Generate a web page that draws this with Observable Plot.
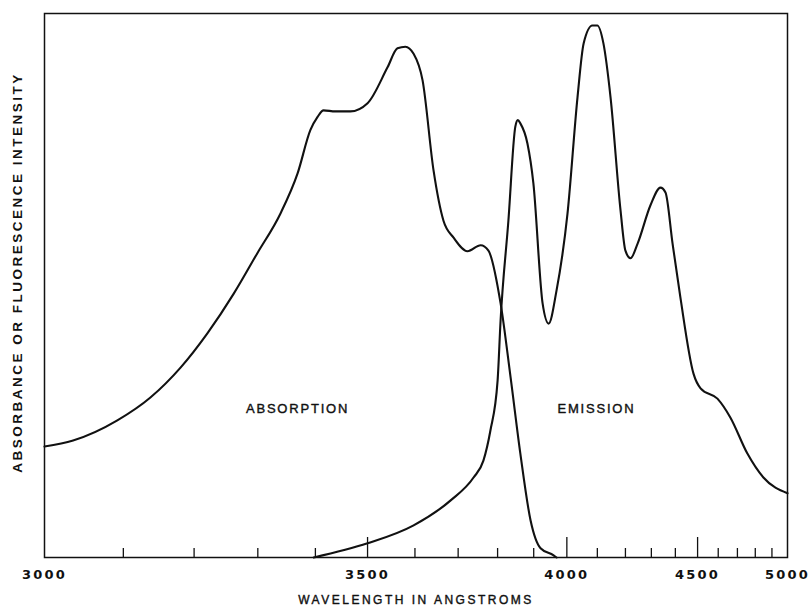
<!DOCTYPE html>
<html>
<head>
<meta charset="utf-8">
<script src="https://cdn.jsdelivr.net/npm/d3@7"></script>
<script src="https://cdn.jsdelivr.net/npm/@observablehq/plot@0.6"></script>
<style>
  html, body { margin: 0; padding: 0; background: #fff; }
  svg { display: block; }
</style>
</head>
<body>
<div id="chart"></div>
<script>
// Absorption spectrum (wavelength in Å, relative absorbance)
const absorptionWavelength = [3000, 3035, 3092, 3137, 3180, 3220, 3261, 3299, 3338, 3368, 3391, 3404, 3415, 3437, 3466, 3500, 3541, 3562, 3579, 3597, 3617, 3642, 3665, 3689, 3723, 3756, 3776, 3808, 3835, 3862, 3891, 3920, 3959, 3968];
const absorptionValue      = [20.4, 21.5, 25.2, 29.4, 34.9, 41.2, 48.5, 55.9, 63.2, 70.6, 78.6, 81.0, 82.2, 82.0, 82.0, 83.5, 90.1, 93.6, 93.9, 92.6, 87.7, 71.1, 61.9, 58.8, 56.3, 57.4, 56.4, 46.7, 33.1, 19.1, 6.8, 1.7, 0.4, 0.0];

// Fluorescence emission spectrum (wavelength in Å, relative intensity)
const emissionWavelength = [3397, 3500, 3597, 3682, 3738, 3763, 3781, 3800, 3808, 3829, 3848, 3855, 3862, 3882, 3899, 3926, 3944, 3968, 4002, 4034, 4054, 4083, 4100, 4121, 4146, 4182, 4200, 4219, 4246, 4296, 4337, 4358, 4388, 4422, 4481, 4514, 4596, 4663, 4755, 4848, 5000];
const emissionValue      = [0.0, 2.6, 5.9, 10.5, 14.7, 17.8, 23.3, 32.5, 43.6, 61.9, 79.2, 80.4, 79.8, 76.1, 68.8, 46.7, 43.0, 49.1, 63.2, 84.6, 94.5, 97.8, 97.8, 94.5, 84.6, 63.8, 56.4, 55.0, 57.7, 64.7, 68.0, 67.1, 57.7, 47.8, 33.8, 31.1, 29.2, 25.7, 19.1, 14.7, 11.8];

// Axis ticks
const labelTicks = [3000, 3500, 4000, 4500, 5000];
const majorTicks = [3500, 4000, 4500];
const minorTicks = [3100, 3200, 3300, 3400, 3600, 3700, 3800, 3900, 4100, 4200, 4300, 4400, 4600, 4700, 4800, 4900];

// Titles and curve annotations
const xTitle = "WAVELENGTH IN ANGSTROMS";
const yTitle = "ABSORBANCE OR FLUORESCENCE INTENSITY";
const curveLabels = ["ABSORPTION", "EMISSION"];
const curveLabelWavelength = [3368, 4097];
const curveLabelValue = [27.4, 27.4];

const absorption = absorptionWavelength.map((w, i) => ({w, v: absorptionValue[i]}));
const emission = emissionWavelength.map((w, i) => ({w, v: emissionValue[i]}));
const annotations = curveLabels.map((t, i) => ({t, w: curveLabelWavelength[i], v: curveLabelValue[i]}));

const ink = "#111";

const chart = Plot.plot({
  width: 811,
  height: 613,
  marginLeft: 44,
  marginRight: 24,
  marginTop: 13,
  marginBottom: 56,
  x: {type: "pow", exponent: -2.35, domain: [3000, 5000], axis: null, label: null},
  y: {domain: [0, 100], axis: null, label: null},
  marks: [
    Plot.frame({stroke: ink, strokeWidth: 1.5}),
    Plot.axisX(minorTicks, {anchor: "bottom", label: null, tickSize: -9, tickFormat: () => "", stroke: ink, strokeWidth: 1.3}),
    Plot.axisX(majorTicks, {anchor: "bottom", label: null, tickSize: -20, tickFormat: () => "", stroke: ink, strokeWidth: 1.3}),
    Plot.axisX(labelTicks, {anchor: "bottom", label: null, tickSize: 0, tickPadding: 12, tickFormat: d => String(d),
      fontFamily: "DejaVu Sans", fontSize: 13, fontWeight: "bold", fill: ink}),
    Plot.line(absorption, {x: "w", y: "v", curve: "monotone-x", stroke: ink, strokeWidth: 2.1}),
    Plot.line(emission, {x: "w", y: "v", curve: "monotone-x", stroke: ink, strokeWidth: 2.1}),
    Plot.text(annotations, {x: "w", y: "v", text: "t", fontFamily: "Liberation Sans", fontSize: 13,
      fill: ink, stroke: ink, strokeWidth: 0.4}),
    Plot.text([xTitle], {frameAnchor: "bottom", dy: 46, fontFamily: "Liberation Sans",
      fontSize: 12, fill: ink, stroke: ink, strokeWidth: 0.4}),
    Plot.text([yTitle], {frameAnchor: "left", textAnchor: "middle", dx: -27, dy: -13, rotate: -90,
      fontFamily: "Liberation Sans", fontSize: 13.5, fontWeight: "bold", fill: ink})
  ]
});

// Letter spacing, as in the hand-lettered original
const tickStrings = labelTicks.map(String);
d3.select(chart).selectAll("text").each(function () {
  const t = this.textContent;
  let ls = null;
  if (tickStrings.includes(t)) ls = "2.2px";
  else if (curveLabels.includes(t)) ls = "1.8px";
  else if (t === xTitle) ls = "2.5px";
  else if (t === yTitle) ls = "2.5px";
  if (ls) this.style.letterSpacing = ls;
});

document.getElementById("chart").appendChild(chart);
</script>
</body>
</html>
